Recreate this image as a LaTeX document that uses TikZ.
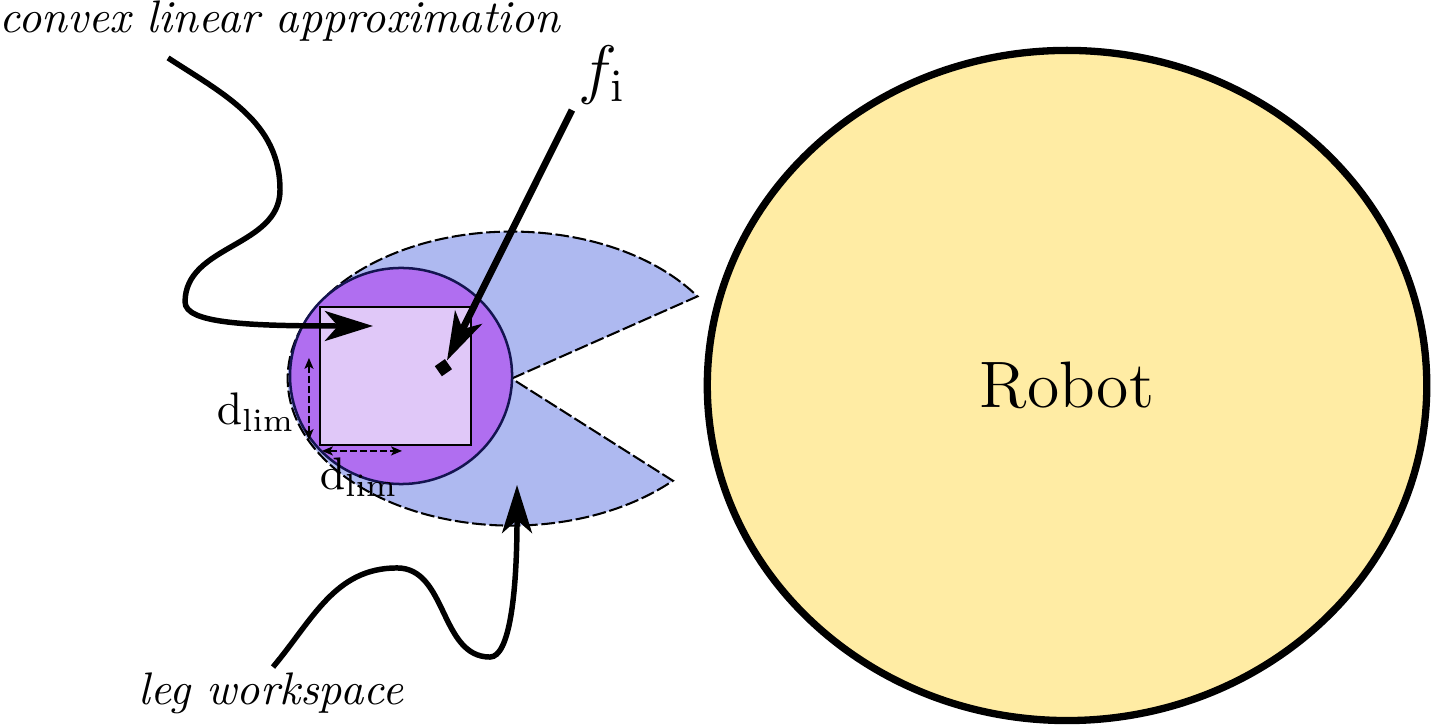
\documentclass[tikz,border=0pt]{standalone}
\usepackage{tikz}
\usetikzlibrary{arrows.meta,shapes.geometric}
\definecolor{workblue}{RGB}{174,185,240}
\definecolor{approxpurple}{RGB}{176,110,240}
\definecolor{approxlight}{RGB}{224,200,248}
\definecolor{approxedge}{RGB}{20,20,80}
\definecolor{robotyellow}{RGB}{255,236,164}

\begin{document}
\begin{tikzpicture}[
	curvy/.style={line width=1.2pt, -{Stealth[length=3.7mm, width=2.3mm, inset=1mm]}},
	dlim/.style={line width=0.3pt, dash pattern=on 1.5pt off 0.7pt, {Stealth[length=2.4pt, width=2pt, inset=0.6pt]}-{Stealth[length=2.4pt, width=2pt, inset=0.6pt]}},
	]
			%%%%% START %%%%%
			\useasboundingbox (0, 0) rectangle (11.034, 5.590);
			
			\node[ellipse, draw, line width=1.6pt, fill=robotyellow, minimum width=5.54cm, minimum height=5.16cm, inner sep=0, font=\Large] (robot) at (8.216, 2.622) {Robot};
			
			\draw[fill=workblue, line width=0.45pt, dash pattern=on 3pt off 0.8pt] (3.94, 2.675) -- ++(34:1.725 and 1.132) arc[start angle=34, end angle=316, x radius=1.725, y radius=1.132] -- cycle;
			\draw[fill=approxpurple, draw=approxedge, line width=0.55pt] (3.088, 2.695) ellipse (0.855 and 0.832);
			\draw[fill=approxlight, line width=0.5pt] (2.464, 2.164) rectangle (3.627, 3.226);
			
			\draw[dlim] (2.379, 2.834) -- (2.379, 2.202);
			\draw[dlim] (2.479, 2.118) -- (3.095, 2.118);
			\node (dlimv) at (1.971, 2.414) {$\mathrm{d}_{\mathrm{lim}}$};
			\node (dlimh) at (2.764, 1.917) {$\mathrm{d}_{\mathrm{lim}}$};
			
			\node[rectangle, fill=black, rotate=35, minimum size=0.095cm, inner sep=0] (fpoint) at (3.414, 2.759) {};
			\node[font=\Large] (fi) at (4.635, 5.013) {$f_{\mathrm{i}}$};
			\coordinate (fistart) at (4.404, 4.743);
			\draw[line width=1.5pt, -{Stealth[length=3.7mm, width=2.3mm, inset=1mm]}] (fistart) -- (fpoint);
			
			\node (convex) at (2.16, 5.43) {\textit{convex linear approximation}};
			\coordinate (convexstart) at (1.294, 5.144);
			\coordinate (convexend) at (2.872, 3.08);
			\draw[curvy] (convexstart) to[out=-33, in=90] (2.156, 4.127) to[out=-90, in=90] (1.425, 3.265) .. controls (1.425, 3.10) and (1.9, 3.08) .. (convexend);
			
			\node (leg) at (2.087, 0.254) {\textit{leg workspace}};
			\coordinate (legstart) at (2.102, 0.454);
			\coordinate (legend) at (3.981, 1.856);
			\draw[curvy] (legstart) to[out=50, in=180] (3.057, 1.217) to[out=0, in=180] (3.773, 0.531) .. controls (3.92, 0.531) and (3.981, 1.0) .. (legend);
			
			%%%%% END %%%%%
		\end{tikzpicture}
\end{document}
